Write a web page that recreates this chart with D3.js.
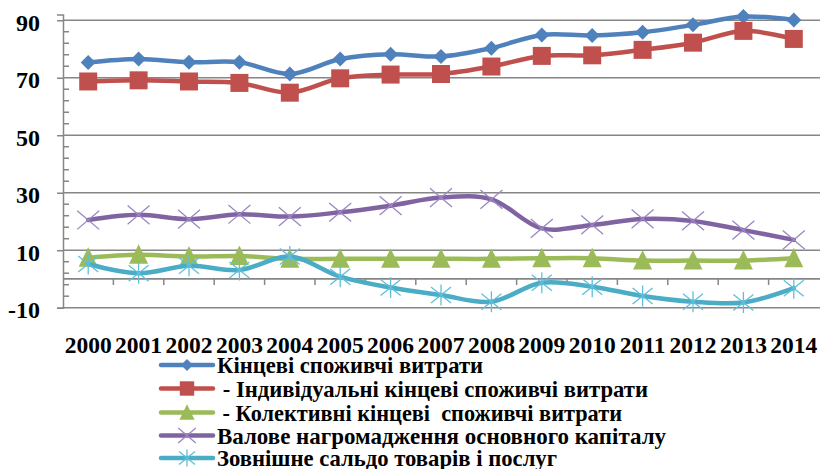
<!DOCTYPE html>
<html>
<head>
<meta charset="utf-8">
<script src="https://cdn.jsdelivr.net/npm/d3@7"></script>
<style>
  html, body { margin: 0; padding: 0; background: #fff; }
  svg { display: block; }
</style>
</head>
<body>
<svg id="chart" width="822" height="469"></svg>
<script>
// Years on the category axis
const years = ['2000','2001','2002','2003','2004','2005','2006','2007','2008','2009','2010','2011','2012','2013','2014'];

// Series values, % of GDP
const finalConsumption = [75.3, 76.5, 75.4, 75.4, 71.3, 76.5, 78.2, 77.4, 80.3, 84.9, 84.7, 85.8, 88.4, 91.3, 90.1];
const individualConsumption = [68.7, 69.1, 68.7, 68.2, 64.8, 69.8, 71.1, 71.3, 73.9, 77.6, 77.8, 79.7, 82.2, 86.3, 83.5];
const collectiveConsumption = [7.4, 8.4, 7.8, 8.0, 7.0, 7.0, 7.0, 7.0, 7.0, 7.2, 7.2, 6.4, 6.4, 6.4, 7.2];
const fixedCapital = [20.5, 22.3, 20.8, 22.5, 21.7, 23.2, 25.5, 28.3, 27.7, 17.6, 18.8, 20.9, 20.2, 17.0, 13.6];
const netExports = [5.2, 2.0, 4.6, 3.1, 7.8, 0.8, -3.0, -5.6, -7.9, -1.3, -2.7, -5.9, -7.9, -8.2, -3.2];

// Legend labels
const seriesNames = [
  'Кінцеві споживчі витрати',
  ' - Індивідуальні кінцеві споживчі витрати',
  ' - Колективні кінцеві  споживчі витрати',
  'Валове нагромадження основного капіталу',
  'Зовнішне сальдо товарів і послуг'
];

// Y-axis tick labels
const yTicks = [-10, 10, 30, 50, 70, 90];

const series = [
  { name: seriesNames[0], values: finalConsumption, color: '#4F81BD', marker: 'diamond' },
  { name: seriesNames[1], values: individualConsumption, color: '#C0504D', marker: 'square' },
  { name: seriesNames[2], values: collectiveConsumption, color: '#9BBB59', marker: 'triangle' },
  { name: seriesNames[3], values: fixedCapital, color: '#8064A2', marker: 'cross' },
  { name: seriesNames[4], values: netExports, color: '#4BACC6', marker: 'star' }
];

const FONT = '"Liberation Serif", "Times New Roman", "DejaVu Serif", serif';

const svg = d3.select('#chart');
const left = 63, right = 819;

const x = d3.scaleBand().domain(years).range([left, right]).paddingInner(0).paddingOuter(0);
const y = d3.scaleLinear().domain([-10, 92]).range([307.7, 14.5]);
const cx = d => x(d) + x.bandwidth() / 2;

const gridColor = '#868686';

// Horizontal gridlines at the major ticks
svg.append('g')
  .selectAll('line')
  .data(yTicks)
  .join('line')
  .attr('x1', left).attr('x2', right + 1)
  .attr('y1', d => y(d)).attr('y2', d => y(d))
  .attr('stroke', gridColor).attr('stroke-width', 1.5);

// Y axis with labels
const yAxis = svg.append('g')
  .attr('transform', `translate(${left},0)`)
  .call(d3.axisLeft(y).tickValues(yTicks).tickSize(6).tickPadding(17).tickFormat(d => String(d)));
yAxis.select('.domain').attr('stroke', gridColor).attr('stroke-width', 1.5);
yAxis.selectAll('.tick line').attr('stroke', gridColor).attr('stroke-width', 1.5);
yAxis.selectAll('.tick text')
  .attr('dy', '0.42em')
  .attr('font-family', FONT)
  .attr('font-weight', 'bold')
  .attr('font-size', 24)
  .attr('fill', '#000');

// Minor ticks inside the plot
const minor = d3.range(-10, 91, 4).filter(v => !yTicks.includes(v));
svg.append('g')
  .selectAll('line')
  .data(minor)
  .join('line')
  .attr('x1', left).attr('x2', left + 6)
  .attr('y1', d => y(d)).attr('y2', d => y(d))
  .attr('stroke', gridColor).attr('stroke-width', 1.5);

// Category axis line at zero, tick marks between categories
svg.append('line')
  .attr('x1', left).attr('x2', right + 1)
  .attr('y1', y(0)).attr('y2', y(0))
  .attr('stroke', gridColor).attr('stroke-width', 1.8);
svg.append('g')
  .selectAll('line')
  .data(years.slice(1))
  .join('line')
  .attr('x1', d => x(d)).attr('x2', d => x(d))
  .attr('y1', y(0)).attr('y2', y(0) + 6)
  .attr('stroke', gridColor).attr('stroke-width', 1.5);

// Category labels along the bottom of the plot
const xAxis = svg.append('g')
  .attr('transform', `translate(0,${y(-10)})`)
  .call(d3.axisBottom(x).tickSize(0).tickPadding(29));
xAxis.select('.domain').remove();
xAxis.selectAll('.tick text')
  .attr('font-family', FONT)
  .attr('font-weight', 'bold')
  .attr('font-size', 23.5)
  .attr('fill', '#000');

// Marker shapes
function markerPath(type, s) {
  switch (type) {
    case 'diamond': return `M0,${-s}L${s},0L0,${s}L${-s},0Z`;
    case 'square': return `M${-s},${-s}H${s}V${s}H${-s}Z`;
    case 'triangle': return `M0,${-s * 1.1}L${s},${s * 0.95}L${-s},${s * 0.95}Z`;
    case 'cross': return `M${-s},${-s * 0.85}L${s},${s * 0.85}M${-s},${s * 0.85}L${s},${-s * 0.85}`;
    case 'star': return `M${-s},${-s * 0.8}L${s},${s * 0.8}M${-s},${s * 0.8}L${s},${-s * 0.8}M0,${-s * 1.05}V${s * 1.05}`;
  }
}
const markerSize = { diamond: 7.5, square: 9, triangle: 9.5, cross: 11, star: 10 };
const lightColor = { cross: '#9C86C4', star: '#5FBFDA' };

function drawMarker(g, s, scale) {
  const filled = s.marker === 'diamond' || s.marker === 'square' || s.marker === 'triangle';
  const p = g.append('path').attr('d', markerPath(s.marker, markerSize[s.marker] * scale));
  if (filled) p.attr('fill', s.color).attr('stroke', 'none');
  else p.attr('fill', 'none').attr('stroke', lightColor[s.marker]).attr('stroke-width', 1.3);
}

const line = d3.line()
  .x((d, i) => cx(years[i]))
  .y(d => y(d))
  .curve(d3.curveCatmullRom.alpha(0.5));

// Series lines and markers
series.forEach(s => {
  const g = svg.append('g');
  g.append('path')
    .datum(s.values)
    .attr('d', line)
    .attr('fill', 'none')
    .attr('stroke', s.color)
    .attr('stroke-width', 4.5)
    .attr('stroke-linejoin', 'round')
    .attr('stroke-linecap', 'round');
  s.values.forEach((v, i) => {
    const mg = g.append('g').attr('transform', `translate(${cx(years[i])},${y(v)})`);
    drawMarker(mg, s, 1);
  });
});

// Legend
const legendRows = [365, 388.5, 412.5, 435.5, 458];
const legendWidths = [266, 431, 405, 449, 340];
series.forEach((s, i) => {
  const g = svg.append('g').attr('transform', `translate(0,${legendRows[i]})`);
  g.append('line')
    .attr('x1', 161).attr('x2', 213)
    .attr('stroke', s.color).attr('stroke-width', 4.5).attr('stroke-linecap', 'round');
  const mg = g.append('g').attr('transform', 'translate(187,0)');
  drawMarker(mg, s, 0.8);
  g.append('text')
    .attr('x', 217).attr('y', 8)
    .attr('textLength', legendWidths[i])
    .attr('lengthAdjust', 'spacingAndGlyphs')
    .attr('font-family', FONT)
    .attr('font-weight', 'bold')
    .attr('font-size', 23)
    .attr('fill', '#000')
    .style('white-space', 'pre')
    .text(s.name);
});
</script>
</body>
</html>
